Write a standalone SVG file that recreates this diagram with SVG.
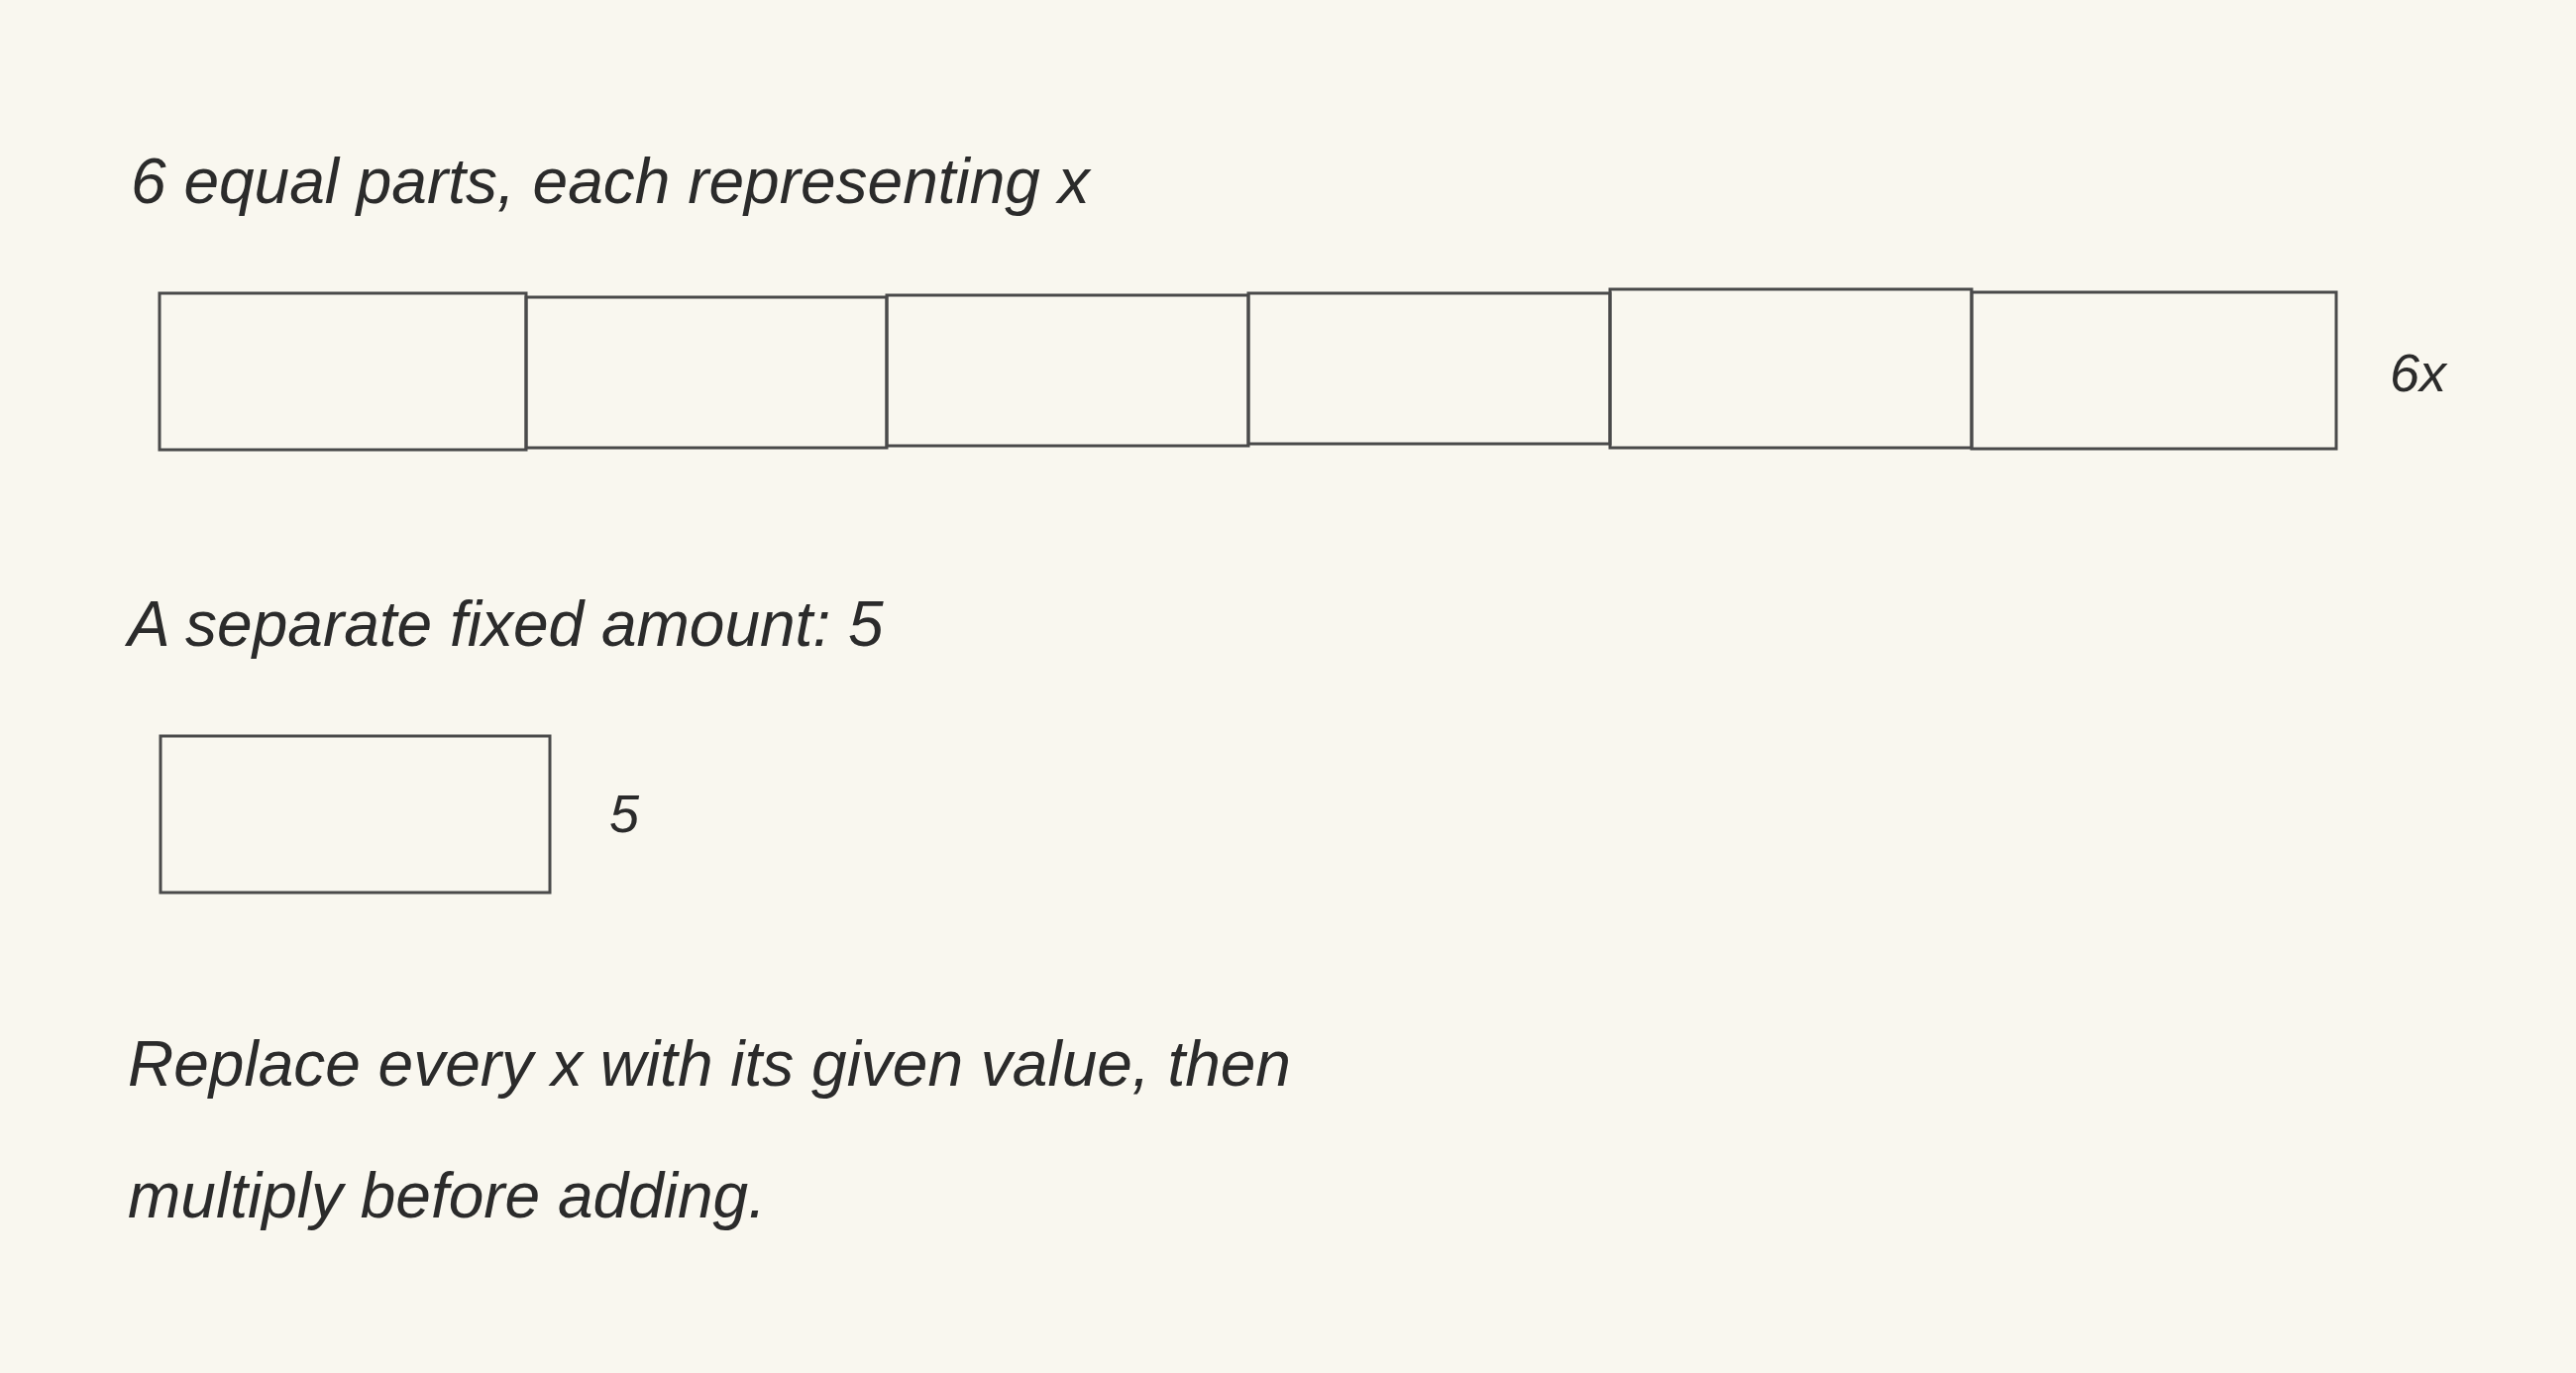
<svg xmlns="http://www.w3.org/2000/svg" width="2600" height="1386" viewBox="0 0 2600 1386">
<style>
.t{font-family:"Liberation Sans","DejaVu Sans",sans-serif;font-style:italic;fill:#2b2b2b}
.b{fill:none;stroke:#4a4a4a;stroke-width:3}
</style>
<rect width="2600" height="1386" fill="#f9f7ef"/>
<text class="t" x="132" y="205" font-size="64">6 equal parts, each representing x</text>
<g id="bar6">
<rect class="b" x="161" y="296" width="370" height="158"/>
<rect class="b" x="531" y="300" width="364" height="152"/>
<rect class="b" x="895" y="298" width="365" height="152"/>
<rect class="b" x="1260" y="296" width="365" height="152"/>
<rect class="b" x="1625" y="292" width="365" height="160"/>
<rect class="b" x="1990" y="295" width="368" height="158"/>
</g>
<text class="t" x="2412" y="395" font-size="54">6x</text>
<text class="t" x="129" y="652" font-size="64">A separate fixed amount: 5</text>
<g id="box5"><rect class="b" x="162" y="743" width="393" height="158"/></g>
<text class="t" x="615" y="840" font-size="54">5</text>
<text class="t" x="129" y="1096" font-size="64">Replace every x with its given value, then</text>
<text class="t" x="129" y="1229" font-size="64">multiply before adding.</text>
</svg>
